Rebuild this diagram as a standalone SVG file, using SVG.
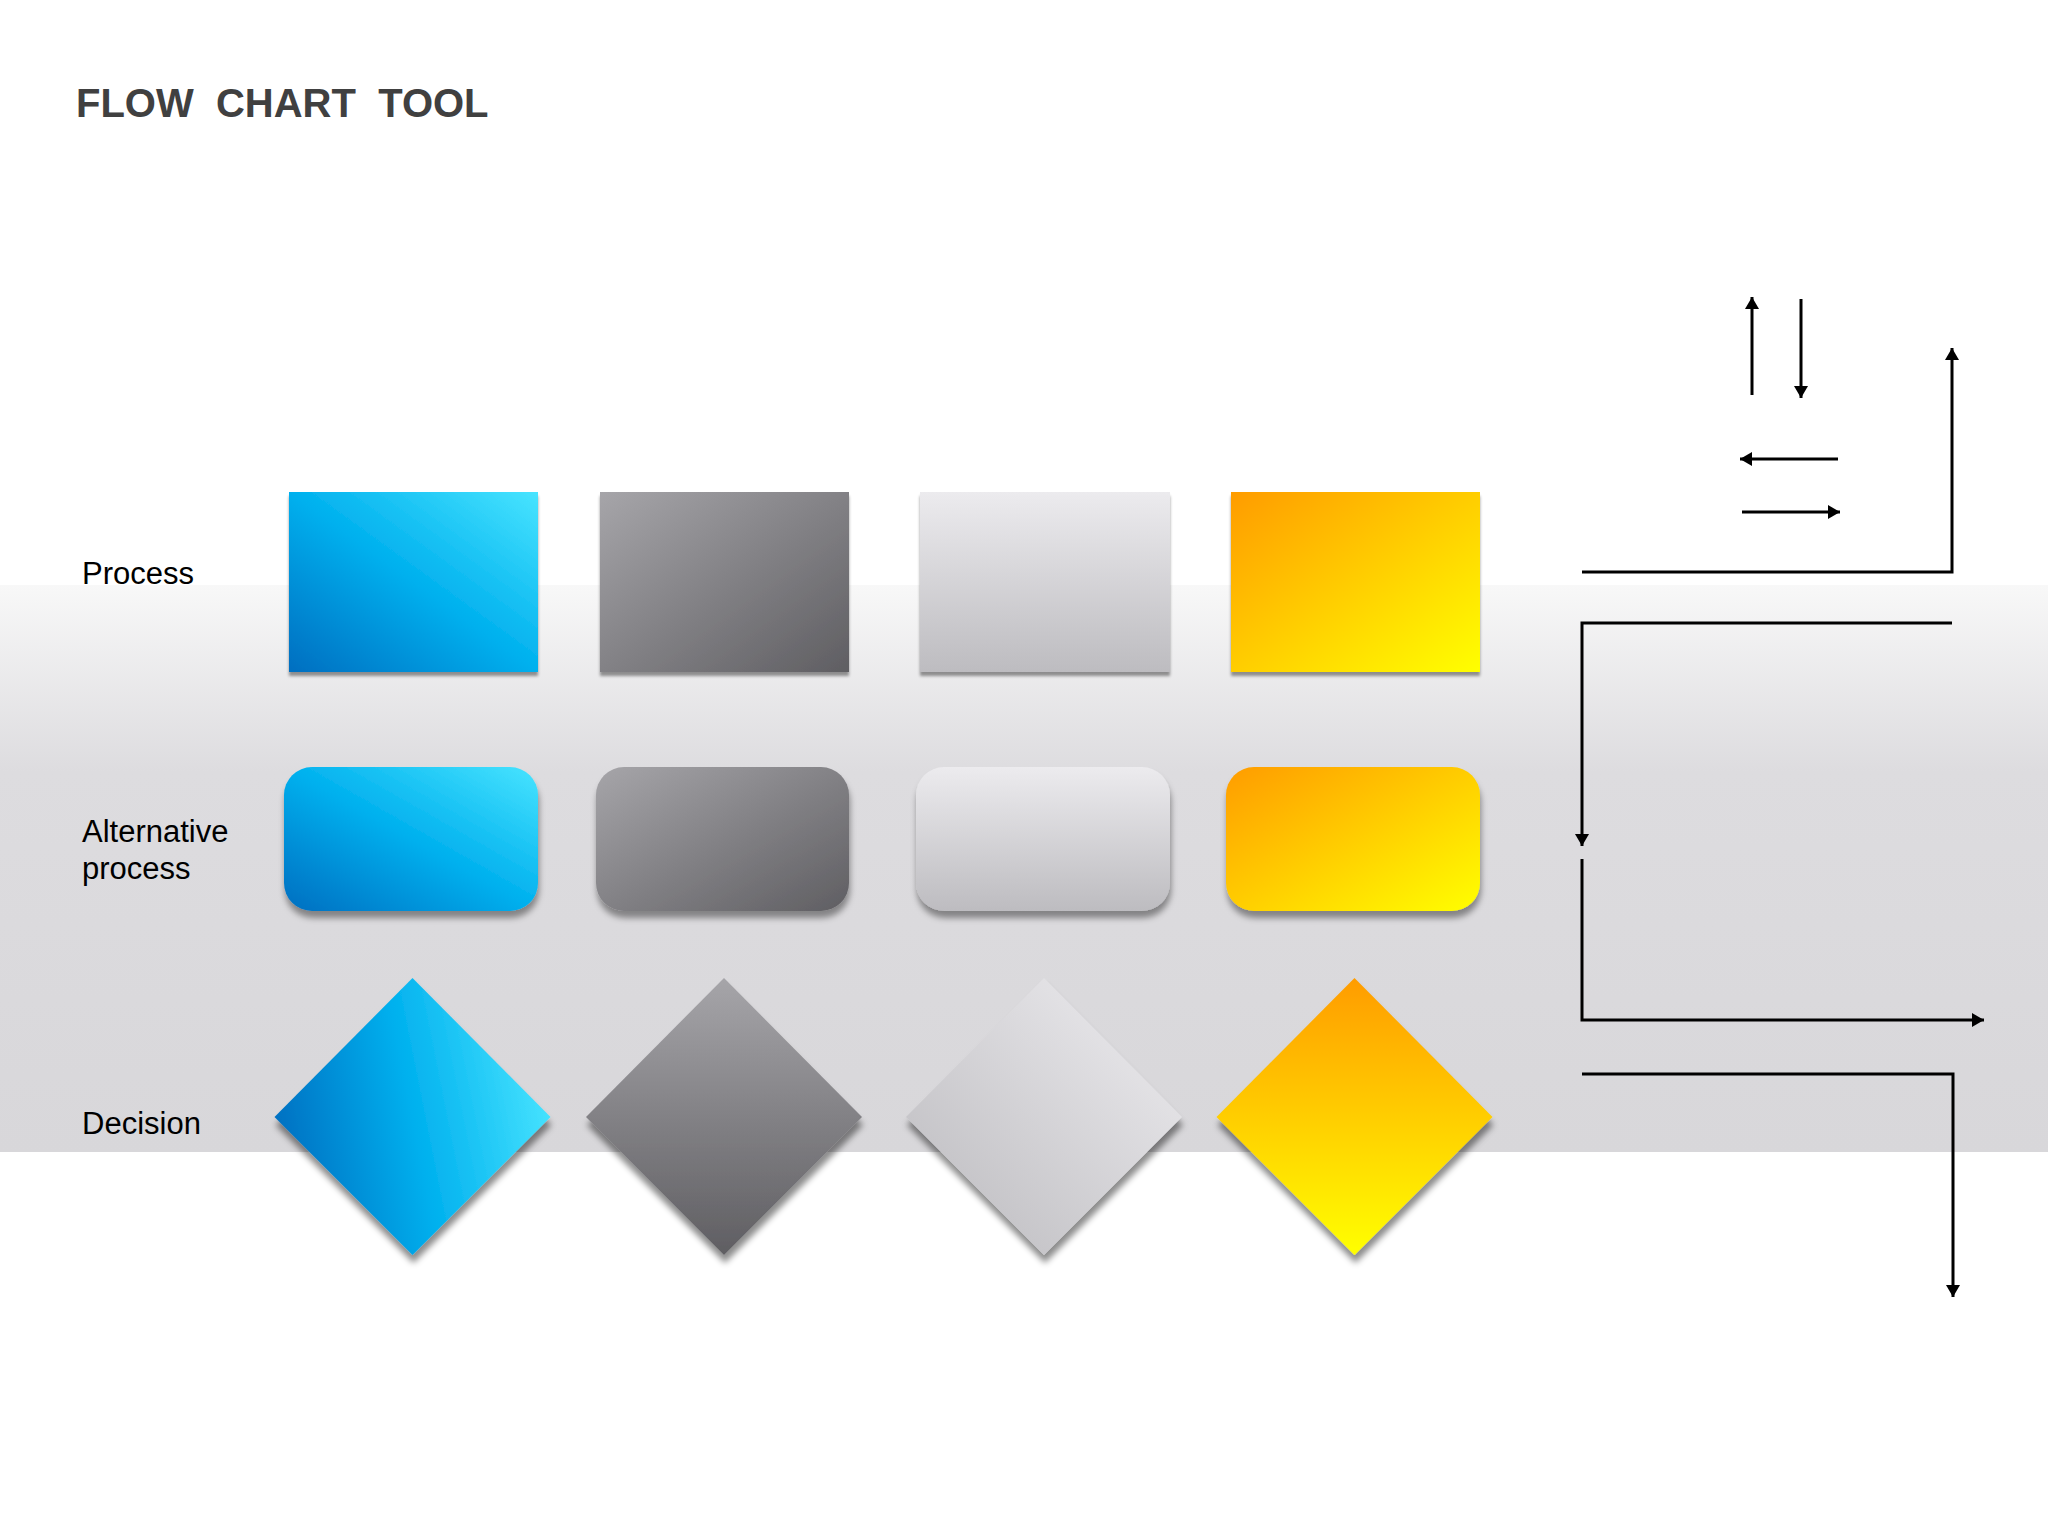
<svg xmlns="http://www.w3.org/2000/svg" width="2048" height="1536" viewBox="0 0 2048 1536">
<defs>
<style>
.lbl{font-family:"Liberation Sans",Arial,sans-serif;font-size:31px;fill:#000}
.title{font-family:"Liberation Sans",Arial,sans-serif;font-size:40px;font-weight:bold;fill:#404040;white-space:pre}
.conn{fill:none;stroke:#000;stroke-width:3}
</style>
<linearGradient id="bg" x1="0" y1="0" x2="0" y2="1">
<stop offset="0" stop-color="#f8f8f8"/>
<stop offset="0.33" stop-color="#dddcdf"/>
<stop offset="1" stop-color="#d8d7da"/>
</linearGradient>
<linearGradient id="blueD" x1="0" y1="1" x2="1" y2="0">
<stop offset="0" stop-color="#006ec0"/>
<stop offset="0.5" stop-color="#00b0ee"/>
<stop offset="1" stop-color="#48e4ff"/>
</linearGradient>
<linearGradient id="blueH" x1="0" y1="0.6" x2="1" y2="0.4">
<stop offset="0" stop-color="#006ec0"/>
<stop offset="0.5" stop-color="#00b0ee"/>
<stop offset="1" stop-color="#48e4ff"/>
</linearGradient>
<linearGradient id="grayD" x1="0" y1="0" x2="1" y2="1">
<stop offset="0" stop-color="#a6a5a9"/>
<stop offset="1" stop-color="#5f5e62"/>
</linearGradient>
<linearGradient id="grayV" x1="0" y1="0" x2="0" y2="1">
<stop offset="0" stop-color="#a6a5a9"/>
<stop offset="1" stop-color="#5f5e62"/>
</linearGradient>
<linearGradient id="lightV" x1="0" y1="0" x2="0" y2="1">
<stop offset="0" stop-color="#ecebee"/>
<stop offset="1" stop-color="#bdbcc0"/>
</linearGradient>
<linearGradient id="lightD" x1="1" y1="0" x2="0" y2="1">
<stop offset="0" stop-color="#efeef1"/>
<stop offset="1" stop-color="#bab9bd"/>
</linearGradient>
<linearGradient id="orangeD" x1="0" y1="0" x2="1" y2="1">
<stop offset="0" stop-color="#ff9c00"/>
<stop offset="1" stop-color="#ffff00"/>
</linearGradient>
<linearGradient id="orangeV" x1="0" y1="0" x2="0" y2="1">
<stop offset="0" stop-color="#ff9c00"/>
<stop offset="1" stop-color="#ffff00"/>
</linearGradient>
<filter id="shP" x="-10%" y="-10%" width="120%" height="130%">
<feDropShadow dx="0" dy="4" stdDeviation="1.5" flood-color="#000" flood-opacity="0.4"/>
</filter>
<filter id="shA" x="-10%" y="-10%" width="120%" height="130%">
<feDropShadow dx="1" dy="7" stdDeviation="3" flood-color="#000" flood-opacity="0.4"/>
</filter>
<filter id="shD" x="-10%" y="-10%" width="120%" height="130%">
<feDropShadow dx="1" dy="8" stdDeviation="3" flood-color="#000" flood-opacity="0.45"/>
</filter>
<marker id="ah" viewBox="0 0 12 14" refX="12" refY="7" markerWidth="12" markerHeight="14" markerUnits="userSpaceOnUse" orient="auto">
<path d="M0,0 L12,7 L0,14 z" fill="#000"/>
</marker>
</defs>

<rect x="0" y="0" width="2048" height="1536" fill="#ffffff"/>
<rect x="0" y="585" width="2048" height="567" fill="url(#bg)"/>

<text class="title" x="76" y="117">FLOW  CHART  TOOL</text>

<g id="label-process"><text class="lbl" x="82" y="584">Process</text></g>
<g id="label-alternative"><text class="lbl" x="82" y="842">Alternative</text><text class="lbl" x="82" y="879">process</text></g>
<g id="label-decision"><text class="lbl" x="82" y="1134">Decision</text></g>

<g id="process-blue"><rect x="289" y="492" width="249" height="180" fill="url(#blueD)" filter="url(#shP)"/></g>
<g id="process-gray"><rect x="600" y="492" width="249" height="180" fill="url(#grayD)" filter="url(#shP)"/></g>
<g id="process-light"><rect x="920" y="492" width="250" height="180" fill="url(#lightV)" filter="url(#shP)"/></g>
<g id="process-orange"><rect x="1231" y="492" width="249" height="180" fill="url(#orangeD)" filter="url(#shP)"/></g>

<g id="alt-blue"><rect x="284" y="767" width="254" height="144" rx="28" ry="28" fill="url(#blueD)" filter="url(#shA)"/></g>
<g id="alt-gray"><rect x="596" y="767" width="253" height="144" rx="28" ry="28" fill="url(#grayD)" filter="url(#shA)"/></g>
<g id="alt-light"><rect x="916" y="767" width="254" height="144" rx="28" ry="28" fill="url(#lightV)" filter="url(#shA)"/></g>
<g id="alt-orange"><rect x="1226" y="767" width="254" height="144" rx="28" ry="28" fill="url(#orangeD)" filter="url(#shA)"/></g>

<g id="decision-blue"><polygon points="412.5,978 550.5,1117 412.5,1255 274.5,1117" fill="url(#blueH)" filter="url(#shD)"/></g>
<g id="decision-gray"><polygon points="724,978 862,1117 724,1255 586,1117" fill="url(#grayV)" filter="url(#shD)"/></g>
<g id="decision-light"><polygon points="1044,978 1182,1117 1044,1255 906,1117" fill="url(#lightD)" filter="url(#shD)"/></g>
<g id="decision-orange"><polygon points="1354.5,978 1492.5,1117 1354.5,1255 1216.5,1117" fill="url(#orangeV)" filter="url(#shD)"/></g>

<g id="connectors">
<path class="conn" d="M1752,395 V297" marker-end="url(#ah)"/>
<path class="conn" d="M1801,299 V398" marker-end="url(#ah)"/>
<path class="conn" d="M1838,459 H1740" marker-end="url(#ah)"/>
<path class="conn" d="M1742,512 H1840" marker-end="url(#ah)"/>
<path class="conn" d="M1582,572 H1952 V348" marker-end="url(#ah)"/>
<path class="conn" d="M1952,623 H1582 V846" marker-end="url(#ah)"/>
<path class="conn" d="M1582,859 V1020 H1984" marker-end="url(#ah)"/>
<path class="conn" d="M1582,1074 H1953 V1297" marker-end="url(#ah)"/>
</g>
</svg>
